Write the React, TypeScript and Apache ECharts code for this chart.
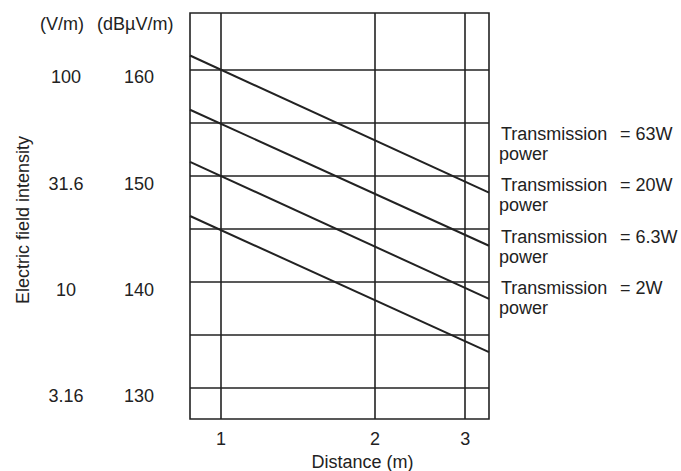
import React, { useEffect, useRef } from 'react';
import * as echarts from 'echarts';

// Distance axis (m), logarithmic
const distanceTicks = [1, 2, 3];
const distanceMin = 0.87;
const distanceMax = 3.34;

// Field intensity axis (dBµV/m)
const dbMin = 127.1;
const dbMax = 165.3;
const dbGridValues = [130, 135, 140, 145, 150, 155, 160];
const dbLabelValues = [130, 140, 150, 160];
const vmLabels = ['3.16', '10', '31.6', '100'];

// Lines: [distance, dBµV/m] read at the plot edges
const line63W = [[0.87, 161.3], [3.34, 148.4]];
const line20W = [[0.87, 156.2], [3.34, 143.4]];
const line6_3W = [[0.87, 151.3], [3.34, 138.4]];
const line2W = [[0.87, 146.2], [3.34, 133.4]];

const powerLabels = ['63W', '20W', '6.3W', '2W'];
const seriesData = [line63W, line20W, line6_3W, line2W];

const FONT = "'Liberation Sans', Arial, Helvetica, sans-serif";
const INK = '#222';

export default function App() {
  const ref = useRef<HTMLDivElement>(null);

  useEffect(() => {
    if (!ref.current) return;
    const chart = echarts.init(ref.current, undefined, { renderer: 'svg' });

    const rightTexts: any[] = [];
    powerLabels.forEach((p, i) => {
      const y0 = 135 + i * 51.4;
      rightTexts.push({
        type: 'text', left: 501, top: y0 - 10,
        style: { text: 'Transmission', fontSize: 18, fontFamily: FONT, fill: INK },
      });
      rightTexts.push({
        type: 'text', left: 620, top: y0 - 10,
        style: { text: '= ' + p, fontSize: 18, fontFamily: FONT, fill: INK },
      });
      rightTexts.push({
        type: 'text', left: 499, top: y0 + 10,
        style: { text: 'power', fontSize: 18, fontFamily: FONT, fill: INK },
      });
    });

    chart.setOption({
      animation: false,
      backgroundColor: '#fff',
      textStyle: { fontFamily: FONT, color: INK },
      grid: {
        left: 190, right: 192, top: 13, bottom: 52,
        outerBoundsMode: 'none',
        containLabel: false,
        show: true, borderColor: INK, borderWidth: 1.6, backgroundColor: 'transparent',
      },
      xAxis: {
        type: 'log',
        logBase: 10,
        min: distanceMin,
        max: distanceMax,
        name: 'Distance (m)',
        nameLocation: 'middle',
        nameGap: 33,
        nameTextStyle: { fontSize: 18, color: INK, fontFamily: FONT, padding: [0, 0, 0, 46] },
        axisLine: { show: false },
        axisTick: { show: false, customValues: distanceTicks },
        axisLabel: {
          customValues: distanceTicks,
          fontSize: 18, color: INK, fontFamily: FONT, margin: 11,
          formatter: (v: number) => String(Math.round(v)),
        },
        splitLine: { show: true, lineStyle: { color: INK, width: 1.6 } },
        minorSplitLine: { show: false },
      },
      yAxis: [
        {
          type: 'value',
          min: dbMin,
          max: dbMax,
          axisLine: { show: false },
          axisTick: { show: false, customValues: dbGridValues },
          axisLabel: {
            customValues: dbLabelValues,
            fontSize: 18, color: INK, fontFamily: FONT,
            align: 'center', verticalAlign: 'top', lineHeight: 16, margin: 51,
          },
          splitLine: { show: true, lineStyle: { color: INK, width: 1.6 } },
        },
        {
          type: 'value',
          position: 'left',
          min: dbMin,
          max: dbMax,
          name: 'Electric field intensity',
          nameLocation: 'middle',
          nameRotate: 90,
          nameGap: 158,
          nameTextStyle: { fontSize: 18, color: INK, fontFamily: FONT, padding: [0, 8, 0, 0] },
          axisLine: { show: false },
          axisTick: { show: false, customValues: dbLabelValues },
          axisLabel: {
            customValues: dbLabelValues,
            fontSize: 18, color: INK, fontFamily: FONT,
            align: 'center', verticalAlign: 'top', lineHeight: 16, margin: 124,
            formatter: (v: number) => vmLabels[dbLabelValues.indexOf(Math.round(v))] ?? '',
          },
          splitLine: { show: false },
        },
      ],
      graphic: [
        {
          type: 'text', left: 40, top: 15,
          style: { text: '(V/m)', fontSize: 18, fontFamily: FONT, fill: INK },
        },
        {
          type: 'text', left: 97, top: 15,
          style: { text: '(dBµV/m)', fontSize: 18, fontFamily: FONT, fill: INK },
        },
        ...rightTexts,
      ],
      series: seriesData.map((d, i) => ({
        name: 'Transmission power = ' + powerLabels[i],
        type: 'line',
        data: d,
        showSymbol: false,
        symbol: 'none',
        lineStyle: { color: INK, width: 2 },
        silent: true,
      })),
    });

    return () => chart.dispose();
  }, []);

  return (
    <div
      ref={ref}
      style={{ position: 'fixed', left: 0, top: 0, width: 681, height: 471, background: '#fff' }}
    />
  );
}
